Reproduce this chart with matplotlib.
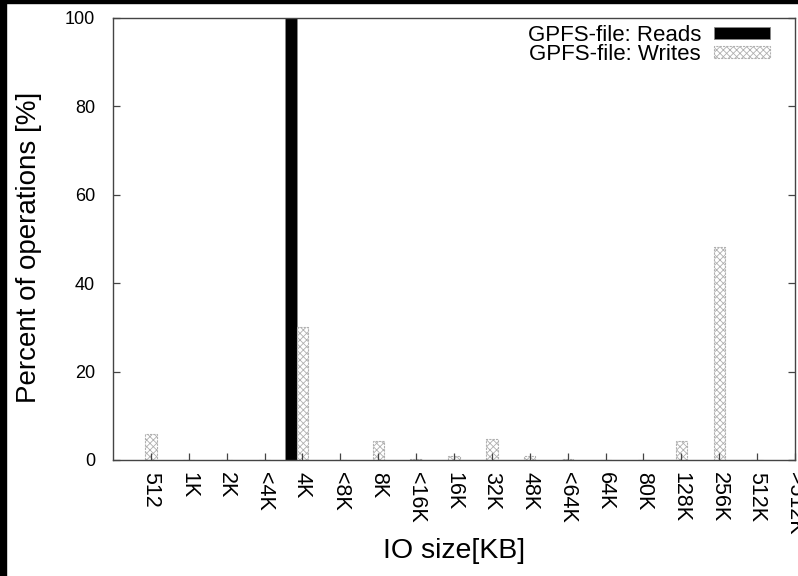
"""
GPFS-file IO size distribution: percent of read / write operations per IO size bucket.
"""

import matplotlib
matplotlib.use('Agg')
import matplotlib.pyplot as plt
from matplotlib.patches import Rectangle
import numpy as np

plt.rcParams['font.family'] = ['Liberation Sans', 'DejaVu Sans']
plt.rcParams['hatch.linewidth'] = 0.6

# ── Data ──────────────────────────────────────────────────────────────────────
sizes = ['512', '1K', '2K', '<4K', '4K', '<8K', '8K', '<16K', '16K', '32K',
         '48K', '<64K', '64K', '80K', '128K', '256K', '512K', '>512K']
reads_pct = [0, 0, 0, 0, 100, 0, 0, 0, 0, 0, 0, 0, 0, 0, 0, 0, 0, 0]
writes_pct = [5.9, 0, 0, 0, 30.2, 0, 4.3, 0.3, 0.8, 4.7, 0.8, 0.3, 0, 0, 4.3, 48.1, 0, 0]

W, H = 798, 576
fig = plt.figure(figsize=(W / 100, H / 100), dpi=100)
ax = fig.add_axes([113 / W, 1 - 460 / H, (795 - 113) / W, (460 - 18) / H])

x = np.arange(len(sizes))
bw = 0.3
ax.bar(x - 1.5 * bw, reads_pct, bw, align='edge', color='black', edgecolor='#888888',
       linewidth=0.6, label='GPFS-file: Reads')
ax.bar(x - bw / 2, writes_pct, bw, align='edge', color='white', edgecolor='#b0b0b0',
       hatch='xxxxx', linewidth=0.8, linestyle=(0, (2, 1)), label='GPFS-file: Writes')

ax.set_xlim(-1, len(sizes) - 1)
ax.set_ylim(0, 100)
ax.set_xticks(x)
ax.set_xticklabels(sizes, rotation=270, fontsize=15.5)
ax.set_yticks([0, 20, 40, 60, 80, 100])
ax.tick_params(axis='both', direction='in', length=5, width=0.9, color='#444444')
ax.tick_params(axis='x', pad=9)
ax.tick_params(axis='y', right=True, pad=13, labelsize=13)
for s in ax.spines.values():
    s.set_linewidth(1.0)
    s.set_color('#444444')

ax.set_ylabel('Percent of operations [%]', fontsize=20)
ax.yaxis.set_label_coords(-0.104, 0.48)
ax.set_xlabel('IO size[KB]', fontsize=20.5, labelpad=2)

ax.legend(loc='upper right', bbox_to_anchor=(0.963, 0.984), frameon=False,
          markerfirst=False, fontsize=16, handlelength=2.5, handleheight=0.45,
          handletextpad=0.6, labelspacing=-0.1, borderaxespad=0, borderpad=0)

# black screenshot border on top and left
fig.patches.append(Rectangle((0, 0), 6 / W, 1, transform=fig.transFigure,
                             color='black', zorder=10))
fig.patches.append(Rectangle((0, 1 - 3 / H), 1, 3 / H, transform=fig.transFigure,
                             color='black', zorder=10))

fig.savefig('out.png', dpi=100)
